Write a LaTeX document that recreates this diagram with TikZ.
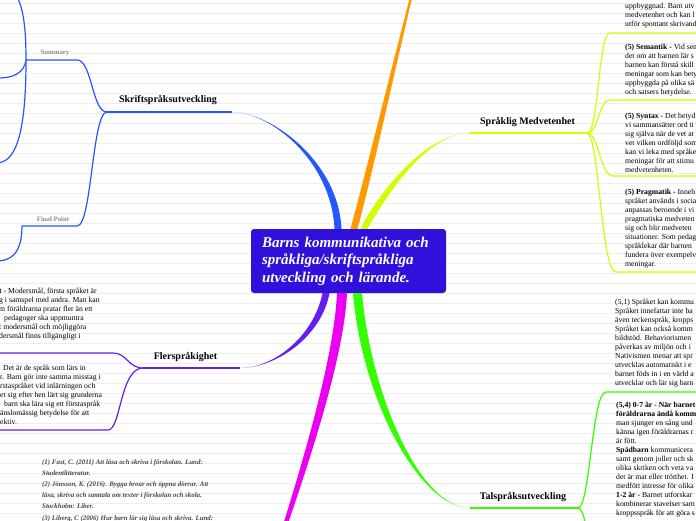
\documentclass[tikz,border=0pt]{standalone}
\usepackage{fontspec}
\setmainfont{Liberation Serif}
\usetikzlibrary{positioning}

\definecolor{hubblue}{RGB}{50,16,220}
\definecolor{skrblue}{RGB}{36,88,255}
\definecolor{orangebr}{RGB}{255,153,0}
\definecolor{sprlime}{RGB}{210,255,0}
\definecolor{talgreen}{RGB}{51,255,0}
\definecolor{flerpurple}{RGB}{100,30,240}
\definecolor{magentabr}{RGB}{236,0,240}
\definecolor{ruled}{RGB}{238,238,238}

\begin{document}
\begin{tikzpicture}[x=1pt,y=-1pt,
    hubbox/.style={fill=hubblue,rounded corners=3pt,text=white,align=left,text width=173pt,minimum height=64pt,inner xsep=11pt,font=\bfseries\itshape\fontsize{15}{17.5}\selectfont},
    topic/.style={font=\bfseries\fontsize{10}{12}\selectfont,inner sep=0pt},
    subtopic/.style={font=\bfseries\fontsize{6.8}{8}\selectfont,text=black!45,inner sep=0pt},
    note/.style={font=\fontsize{7.7}{9}\selectfont,align=left,anchor=north west,inner sep=0pt},
    cite/.style={font=\bfseries\itshape\fontsize{6.9}{11.2}\selectfont,text=black!72,align=left,anchor=north west,inner sep=0pt},
    twig/.style={line width=1.2pt}
]
\useasboundingbox (0,0) rectangle (696,520);
\fill[white] (0,0) rectangle (696,520);
\foreach \y in {3,13,...,513} \draw[ruled,line width=0.6pt] (0,\y) -- (696,\y);

\node[hubbox] (hub) at (348.5,261) {Barns kommunikativa och\\språkliga/skriftspråkliga\\utveckling och lärande.};

\node[topic] (skr) at (168,100) {Skriftspråksutveckling};
\node[topic] (spr) at (527.5,122) {Språklig Medvetenhet};
\node[topic] (tal) at (523,497) {Talspråksutveckling};
\node[topic] (fler) at (185.5,357) {Flerspråkighet};
\node[subtopic] (sum) at (55,53) {Summary};
\node[subtopic] (fin) at (53,219) {Final Point};

\coordinate (skrR) at (232,112); \coordinate (skrL) at (107,112);
\coordinate (sprL) at (470,133); \coordinate (sprR) at (587,133);
\coordinate (talL) at (470,508); \coordinate (talR) at (578,508);
\coordinate (flerR) at (240,368); \coordinate (flerL) at (143,368);
\coordinate (sumR) at (77,60); \coordinate (sumL) at (26,60);
\coordinate (finR) at (77,226); \coordinate (finL) at (22,226);
\coordinate (orangeEnd) at (450,-150);
\coordinate (magentaEnd) at (220,720);

% thick branches
\fill[skrblue] ([xshift=-14pt]hub.north) .. controls (331,160) and (270,112) .. (skrR)
  .. controls (270,112) and (338,160) .. ([xshift=-7pt]hub.north) -- cycle;
\fill[orangebr] ([xshift=2pt]hub.north) .. controls (372,150) and (420,-50) .. (orangeEnd)
  .. controls (420,-50) and (379,150) .. ([xshift=9pt]hub.north) -- cycle;
\fill[sprlime] ([xshift=12pt]hub.north) .. controls (377,195) and (425,133) .. (sprL)
  .. controls (425,133) and (384,200) .. ([xshift=19pt]hub.north) -- cycle;
\fill[flerpurple] ([xshift=-26pt]hub.south) .. controls (314,335) and (275,368) .. (flerR)
  .. controls (275,368) and (321,338) .. ([xshift=-19pt]hub.south) -- cycle;
\fill[magentabr] ([xshift=-11.5pt]hub.south) .. controls (332,400) and (250,620) .. (magentaEnd)
  .. controls (250,620) and (342,400) .. ([xshift=-1.5pt]hub.south) -- cycle;
\fill[talgreen] ([xshift=4.5pt]hub.south) .. controls (362,400) and (420,508) .. (talL)
  .. controls (420,508) and (371,395) .. ([xshift=13.5pt]hub.south) -- cycle;

\draw[skrblue,twig] (skrR) -- (skrL);
\draw[sprlime,twig] (sprL) -- (sprR);
\draw[talgreen,twig] (talL) -- (talR);
\draw[flerpurple,twig] (flerR) -- (flerL);

% Skriftspraksutveckling
\coordinate (sumUp) at (8,-12); \coordinate (sumMid) at (-2,78); \coordinate (sumLow) at (-4,163);
\coordinate (finLow) at (-3,261);
\draw[skrblue,twig] (skrL) .. controls (92,112) and (92,60) .. (sumR) -- (sumL);
\draw[skrblue,twig] (skrL) .. controls (92,112) and (92,226) .. (finR) -- (finL);
\draw[skrblue,twig] (sumL) .. controls (26,20) and (22,-5) .. (sumUp);
\draw[skrblue,twig] (sumL) .. controls (24,74) and (12,78) .. (sumMid);
\draw[skrblue,twig] (sumL) .. controls (26,140) and (14,163) .. (sumLow);
\draw[skrblue,twig] (finL) .. controls (22,252) and (12,261) .. (finLow);

% Spraklig Medvetenhet
\coordinate (noteA) at (610,33); \coordinate (noteAend) at (700,33);
\coordinate (noteB) at (610,100); \coordinate (noteBend) at (700,100);
\coordinate (noteC) at (613,176); \coordinate (noteCend) at (700,176);
\coordinate (noteD) at (616,272); \coordinate (noteDend) at (700,272);
\draw[sprlime,twig] (sprR) .. controls (599,133) and (598,33) .. (noteA) -- (noteAend);
\draw[sprlime,twig] (sprR) .. controls (599,133) and (598,100) .. (noteB) -- (noteBend);
\draw[sprlime,twig] (sprR) .. controls (599,133) and (600,176) .. (noteC) -- (noteCend);
\draw[sprlime,twig] (sprR) .. controls (599,133) and (601,272) .. (noteD) -- (noteDend);

\node[note] (semA) at (625,2.5) {uppbyggnad. Barn utv\\medvetenhet och kan l\\utför spontant skrivand};
\node[note] (sem) at (625,43.5) {\textbf{(5) Semantik -} Vid sem\\det om att barnen lär s\\barnen kan förstå skill\\meningar som kan bety\\uppbyggda på olika sä\\och satsers betydelse.};
\node[note] (syn) at (625,112.5) {\textbf{(5) Syntax -} Det betyd\\vi sammansätter ord ti\\sig själva när de vet at\\vet vilken ordföljd som\\kan vi leka med språke\\meningar för att stimu\\medvetenheten.};
\node[note] (prag) at (625,188.5) {\textbf{(5) Pragmatik -} Inneb\\språket används i socia\\anpassas beroende i vi\\pragmatiska medveten\\sig och blir medveten\\situationer. Som pedag\\språklekar där barnen\\fundera över exempelv\\meningar.};

% Talspraksutveckling
\coordinate (noteG) at (606,392); \coordinate (noteGend) at (700,392);
\coordinate (noteH) at (605,600);
\draw[talgreen,twig] (talR) .. controls (590,508) and (592,392) .. (noteG) -- (noteGend);
\draw[talgreen,twig] (talR) .. controls (590,508) and (590,600) .. (noteH);

\node[note] (spraket) at (615,298.5) {(5,1) Språket kan kommu\\Språket innefattar inte ba\\även teckenspråk, kropps\\Språket kan också komm\\bildstöd. Behaviorismen\\påverkas av miljön och i\\Nativismen menar att spr\\utvecklas automatiskt i e\\barnet föds in i en värld a\\utvecklar och lär sig barn};
\node[note] (alder) at (616,401.5) {\textbf{(5,4) 0-7 år - När barnet}\\\textbf{föräldrarna ändå komm}\\man sjunger en sång und\\känna igen föräldrarnas r\\är fött.\\\textbf{Spädbarn} kommunicera\\samt genom joller och sk\\olika skriken och veta va\\det är mat eller trötthet. I\\medfött intresse för olika\\\textbf{1-2 år -} Barnet utforskar\\kombinerar stavelser sam\\kroppsspråk för att göra s};

% Flersprakighet
\coordinate (noteE) at (113,353); \coordinate (noteEend) at (-5,353);
\coordinate (noteF) at (108,430); \coordinate (noteFend) at (-5,430);
\draw[flerpurple,twig] (flerL) .. controls (128,368) and (127,353) .. (noteE) -- (noteEend);
\draw[flerpurple,twig] (flerL) .. controls (120,368) and (121,430) .. (noteF) -- (noteFend);

\node[note] (moders) at (-1,287.5) {\textbf{t} - Modersmål, första språket är\\g i samspel med andra. Man kan\\m föräldrarna pratar fler än ett\\\hspace*{5pt}pedagoger ska uppmuntra\\t modersmål och möjliggöra\\dersmål finns tillgängligt i};
\node[note] (andra) at (0,364.5) {\hspace*{3pt}Det är de språk som lärs in\\r. Barn gör inte samma misstag i\\rstaspråket vid inlärningen och\\et sig efter hen lärt sig grunderna\\\hspace*{4pt}barn ska lära sig ett förstaspråk\\änslomässig betydelse för att\\ektiv.};

\node[cite] (refs) at (42,459) {(1) Fast, C. (2011) Att läsa och skriva i förskolan. Lund:\\Studentlitteratur.\\(2) Jönsson, K. (2016). Bygga broar och öppna dörrar. Att\\läsa, skriva och samtala om texter i förskolan och skola.\\Stockholm: Liber.\\(3) Liberg, C (2006) Hur barn lär sig läsa och skriva. Lund:};
\end{tikzpicture}
\end{document}
